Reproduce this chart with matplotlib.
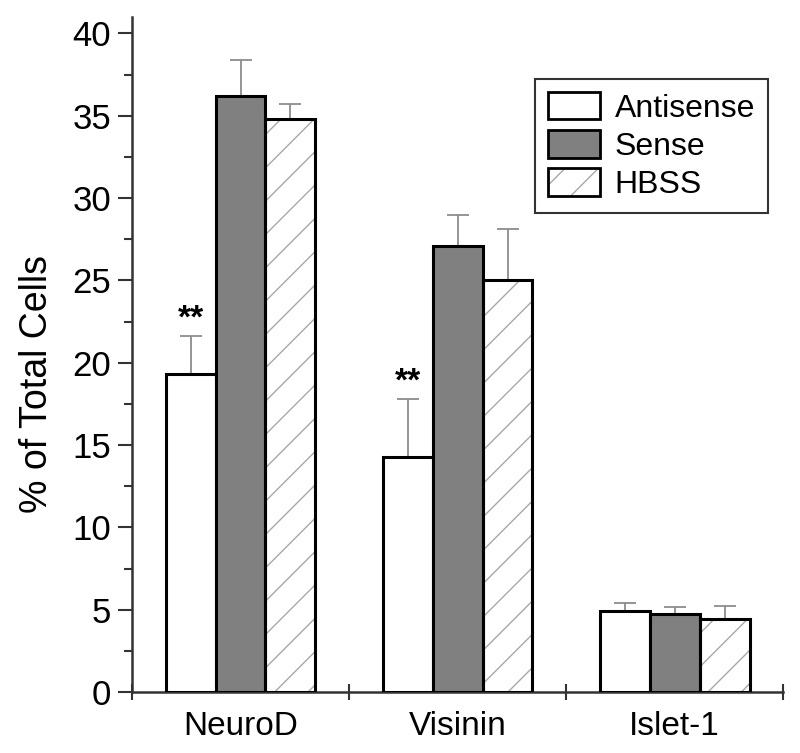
import matplotlib
matplotlib.use('agg')
import matplotlib.pyplot as plt
import numpy as np
from matplotlib.patches import Patch
from matplotlib.legend_handler import HandlerTuple

plt.rcParams['font.family'] = ['Liberation Sans', 'DejaVu Sans']
plt.rcParams['hatch.linewidth'] = 1.0

groups = ['NeuroD', 'Visinin', 'Islet-1']
series = ['Antisense', 'Sense', 'HBSS']
antisense = [19.3, 14.3, 4.9]
antisense_err = [2.3, 3.5, 0.5]
sense = [36.2, 27.1, 4.75]
sense_err = [2.2, 1.9, 0.4]
hbss = [34.8, 25.0, 4.45]
hbss_err = [0.9, 3.1, 0.8]
stars = ['**', '**', '']

values = [antisense, sense, hbss]
errors = [antisense_err, sense_err, hbss_err]
fills = ['white', '#808080', 'white']
hatches = [None, None, '/']

fig = plt.figure(figsize=(8, 7.53), dpi=100)
# y axis runs a little past 40 like the original
ax = fig.add_axes([0.165, 0.081, 0.814, 0.8964])

x = np.arange(len(groups))
width = 0.23
offsets = [-width, 0, width]

handles = []
for vals, errs, fc, h, off in zip(values, errors, fills, hatches, offsets):
    pos = x + off
    if h:
        ax.bar(pos, vals, width, color=fc, hatch=h, edgecolor='#a8a8a8',
               linewidth=0, zorder=2)
    ax.bar(pos, vals, width, color=fc if not h else 'none',
           edgecolor='black', linewidth=2.2, zorder=3)
    ax.errorbar(pos, vals, yerr=[np.zeros(len(errs)), errs], fmt='none',
                ecolor='#8c8c8c', elinewidth=1.3, capsize=8, capthick=1.3,
                zorder=1)
    if h:
        handles.append((Patch(facecolor=fc, hatch=h, edgecolor='#a8a8a8',
                              linewidth=0),
                        Patch(facecolor='none', edgecolor='black',
                              linewidth=2.0)))
    else:
        handles.append(Patch(facecolor=fc, edgecolor='black', linewidth=2.0))

# significance marks above antisense bars
for xi, v, e, s in zip(x, antisense, antisense_err, stars):
    if s:
        ax.text(xi - width, v + e + 0.1, s, ha='center', va='bottom',
                fontsize=24, fontweight='bold')

ax.set_xlim(-0.5, 2.5)
ax.set_ylim(0, 41)
ax.set_yticks(np.arange(0, 41, 5))
ax.set_yticks(np.arange(0, 40.1, 2.5), minor=True)
ax.set_xticks(x)
ax.set_xticklabels(groups)
ax.set_xticks([-0.5, 0.5, 1.5, 2.5], minor=True)

ax.tick_params(axis='y', which='major', labelsize=25, length=10, width=1.5,
               direction='out', color='#333333', pad=5)
ax.tick_params(axis='y', which='minor', length=6, width=1.5,
               direction='out', color='#333333')
ax.tick_params(axis='x', which='major', labelsize=24, length=0, pad=14)
ax.tick_params(axis='x', which='minor', length=12, width=1.5,
               direction='inout', color='#333333')

for side in ['top', 'right']:
    ax.spines[side].set_visible(False)
for side in ['left', 'bottom']:
    ax.spines[side].set_linewidth(1.8)
    ax.spines[side].set_color('#333333')

ax.set_ylabel('% of Total Cells', fontsize=27)
ax.yaxis.set_label_coords(-0.118, 0.457)

leg = ax.legend(handles, series, handler_map={tuple: HandlerTuple(ndivide=1)},
                loc='upper right', bbox_to_anchor=(0.96, 0.895),
                bbox_transform=fig.transFigure, borderaxespad=0,
                fontsize=23, frameon=True, fancybox=False,
                handlelength=1.65, handleheight=0.95, labelspacing=0.2,
                borderpad=0.4, handletextpad=0.45)
leg.get_frame().set_edgecolor('black')
leg.get_frame().set_linewidth(1.5)

fig.savefig('out.png', dpi=100)
